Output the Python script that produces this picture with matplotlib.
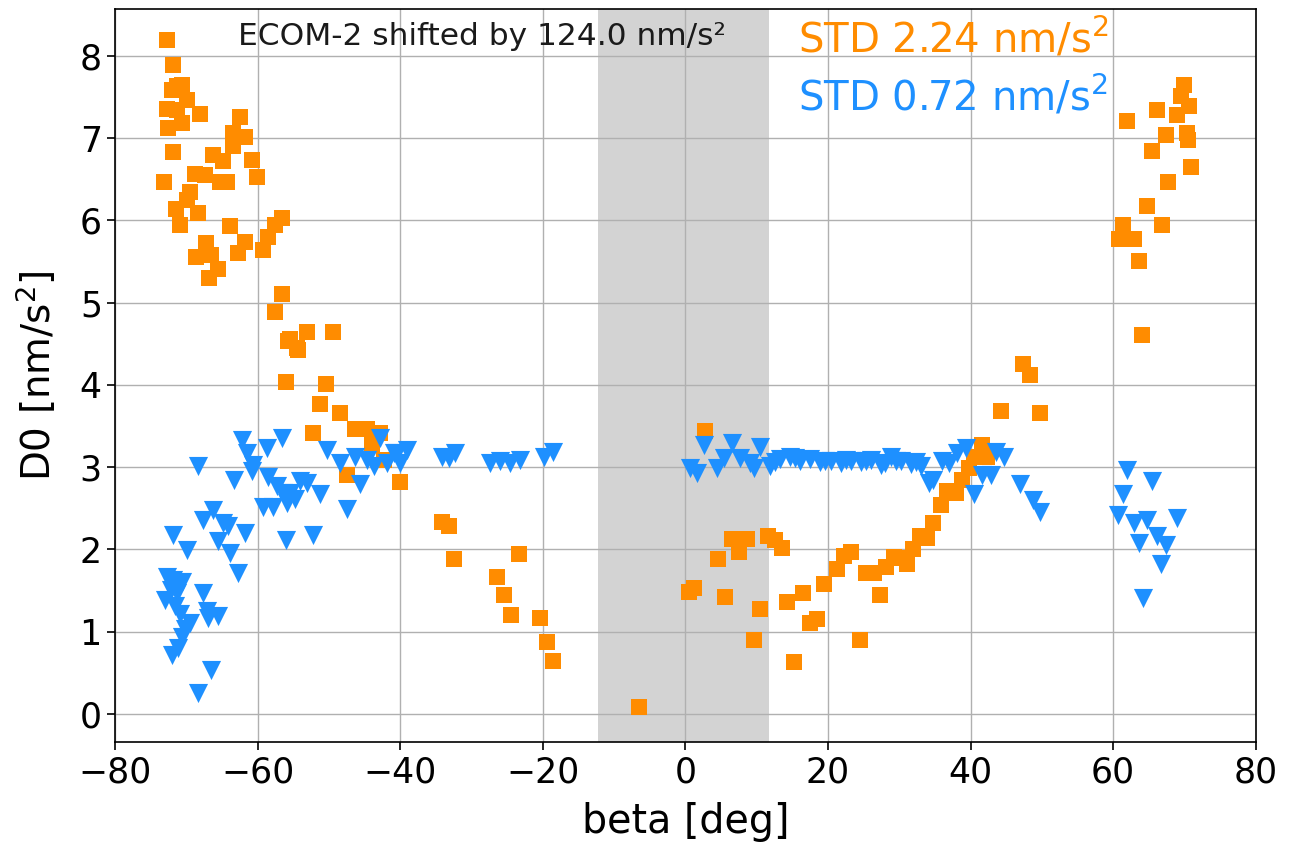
import matplotlib
matplotlib.use("Agg")
import matplotlib.pyplot as plt

plt.rcParams['font.family'] = ['DejaVu Sans']
plt.rcParams['mathtext.fontset'] = 'dejavusans'

# ECOM-2 (shifted) residuals - orange squares
beta_ecom2 = [-72.7, -71.8, -71.3, -72.0, -70.6, -69.9, -72.7, -71.3, -68.1, -70.6,
              -72.5, -62.5, -63.4, -61.8, -63.4, -71.8, -66.2, -64.8, -60.8, -68.8,
              -67.4, -65.3, -64.3, -60.1, -73.1, -69.5, -69.9, -71.5, -68.3, -70.9,
              -56.6, -57.5, -58.5, -59.2, -63.9, -61.8, -62.8, -67.2, -68.6, -66.5,
              -65.5, -66.8, -56.6, -57.6, -53.1, -49.4, -55.4, -54.5, -55.7, -54.3,
              -56.0, -50.4, -51.3, -48.5, -52.3, -46.3, -44.7, -42.8, -44.0, -42.3,
              -47.5, -40.0, -34.1, -33.2, -32.4, -23.3, -26.4, -25.4, -24.5, -20.4,
              -19.4, -18.5, -6.5, 0.5, 1.2, 2.7, 4.6, 5.5, 6.6, 7.5,
              8.7, 11.6, 12.6, 13.5, 9.6, 10.5, 14.3, 16.5, 17.5, 18.5,
              15.3, 19.4, 21.3, 22.2, 23.2, 24.5, 25.4, 26.4, 27.3, 28.2,
              29.2, 30.2, 31.1, 31.9, 32.9, 33.9, 34.8, 35.8, 36.7, 37.9,
              38.8, 39.8, 40.5, 41.6, 42.3, 44.2, 47.3, 48.4, 49.7,
              69.9, 69.5, 70.7, 66.1, 68.9, 62.0, 67.4, 70.4, 70.5, 65.5,
              70.9, 67.7, 64.8, 66.8, 61.4, 60.8, 62.9, 63.6, 64.1]
d0_ecom2 = [8.19, 7.89, 7.63, 7.59, 7.65, 7.47, 7.36, 7.34, 7.30, 7.18,
            7.12, 7.26, 7.06, 7.02, 6.90, 6.83, 6.80, 6.72, 6.74, 6.57,
            6.55, 6.47, 6.47, 6.53, 6.47, 6.35, 6.25, 6.14, 6.09, 5.95,
            6.03, 5.95, 5.80, 5.64, 5.93, 5.74, 5.60, 5.72, 5.55, 5.58,
            5.41, 5.30, 5.11, 4.89, 4.64, 4.64, 4.56, 4.45, 4.53, 4.43,
            4.04, 4.01, 3.77, 3.66, 3.42, 3.46, 3.46, 3.42, 3.27, 3.09,
            2.90, 2.82, 2.34, 2.29, 1.88, 1.94, 1.67, 1.45, 1.20, 1.17,
            0.87, 0.65, 0.09, 1.48, 1.53, 3.44, 1.88, 1.42, 2.13, 1.97,
            2.13, 2.16, 2.12, 2.02, 0.90, 1.28, 1.36, 1.47, 1.11, 1.15,
            0.63, 1.58, 1.76, 1.92, 1.97, 0.90, 1.71, 1.71, 1.45, 1.79,
            1.91, 1.90, 1.82, 2.00, 2.16, 2.14, 2.32, 2.54, 2.71, 2.69,
            2.85, 2.99, 3.13, 3.27, 3.13, 3.68, 4.26, 4.12, 3.66,
            7.65, 7.51, 7.39, 7.34, 7.28, 7.21, 7.04, 7.06, 6.98, 6.85,
            6.65, 6.47, 6.17, 5.95, 5.95, 5.78, 5.78, 5.51, 4.61]

# Other solution - blue triangles
beta_other = [-62.2, -61.5, -58.7, -56.6, -68.3, -60.6, -60.8, -63.3, -58.5, -57.3,
              -56.4, -55.4, -54.0, -53.1, -51.2, -59.2, -57.8, -55.9, -54.7, -66.2,
              -67.6, -64.8, -64.1, -61.8, -71.8, -65.5, -69.9, -63.9, -56.0, -52.3,
              -47.5, -62.7, -72.7, -71.8, -70.6, -72.2, -71.3, -67.7, -73.0, -71.6,
              -67.1, -65.5, -66.9, -70.9, -69.5, -70.2, -70.6, -71.1, -72.0, -66.5,
              -68.3, -50.3, -48.4, -46.3, -44.7, -43.7, -42.8, -41.9, -40.5, -39.1,
              -45.6, -40.9, -40.0, -34.1, -32.3, -33.2, -27.4, -26.0, -24.6, -23.2,
              -19.9, -18.5, 0.7, 1.6, 2.6, 4.4, 5.4, 6.6, 7.7, 9.1,
              10.5, 9.6, 11.9, 12.5, 13.3, 14.7, 15.4, 16.1, 17.5, 18.9,
              19.6, 20.4, 21.8, 22.5, 23.2, 24.6, 25.3, 26.0, 27.4, 28.0,
              28.8, 29.5, 30.2, 31.6, 32.3, 33.0, 34.2, 34.8, 36.0, 37.0,
              38.1, 39.3, 40.5, 41.6, 42.8, 43.5, 44.7, 47.0, 48.7, 49.7,
              62.0, 65.5, 61.4, 60.7, 62.9, 64.8, 69.0, 63.6, 66.2, 67.4,
              66.7, 64.2]
d0_other = [3.33, 3.17, 3.23, 3.35, 3.02, 3.03, 2.95, 2.85, 2.88, 2.77,
            2.69, 2.69, 2.83, 2.81, 2.67, 2.52, 2.52, 2.57, 2.61, 2.48,
            2.36, 2.32, 2.28, 2.20, 2.18, 2.10, 1.99, 1.96, 2.12, 2.17,
            2.49, 1.71, 1.67, 1.63, 1.61, 1.51, 1.47, 1.47, 1.39, 1.31,
            1.25, 1.19, 1.17, 1.21, 1.11, 1.03, 0.94, 0.80, 0.72, 0.54,
            0.26, 3.21, 3.05, 3.13, 3.09, 3.01, 3.35, 3.05, 3.17, 3.21,
            2.79, 3.17, 3.05, 3.13, 3.17, 3.11, 3.05, 3.07, 3.05, 3.09,
            3.13, 3.19, 2.99, 2.93, 3.27, 2.99, 3.11, 3.29, 3.11, 3.05,
            3.25, 2.99, 3.01, 3.06, 3.10, 3.12, 3.11, 3.08, 3.10, 3.06,
            3.07, 3.08, 3.05, 3.09, 3.08, 3.06, 3.08, 3.09, 3.03, 3.05,
            3.12, 3.07, 3.08, 3.04, 3.06, 3.02, 2.81, 2.85, 3.07, 3.05,
            3.17, 3.23, 2.67, 2.91, 2.91, 3.19, 3.13, 2.79, 2.60, 2.46,
            2.97, 2.83, 2.67, 2.42, 2.32, 2.36, 2.38, 2.08, 2.16, 2.06,
            1.82, 1.41]

xticks = [-80, -60, -40, -20, 0, 20, 40, 60, 80]
yticks = [0, 1, 2, 3, 4, 5, 6, 7, 8]
eclipse_span = [-12.2, 11.7]
shift_text = "ECOM-2 shifted by 124.0 nm/s²"
std_ecom2 = 2.24
std_other = 0.72

c_orange = '#FF8C00'
c_blue = '#1E90FF'

fig = plt.figure(figsize=(13.04, 8.44), dpi=100)
ax = fig.add_axes([0.0882, 0.1209, 0.8748, 0.8684])

ax.axvspan(eclipse_span[0], eclipse_span[1], color='#d3d3d3', zorder=0, lw=0)
ax.grid(True, color='#b0b0b0', lw=1.0, zorder=0.5)
ax.set_axisbelow(True)

ax.scatter(beta_ecom2, d0_ecom2, marker='s', s=120, color=c_orange, lw=0, zorder=2)
ax.scatter(beta_other, d0_other, marker='v', s=190, color=c_blue, lw=0, zorder=3)

ax.set_xlim(-80, 80)
ax.set_ylim(-0.34, 8.57)
ax.set_xticks(xticks)
ax.set_yticks(yticks)
ax.tick_params(labelsize=25, length=6, width=1.2)
for sp in ax.spines.values():
    sp.set_linewidth(1.2)

ax.set_xlabel('beta [deg]', fontsize=28.5, labelpad=9)
ax.set_ylabel(r'D0 [nm/s$^2$]', fontsize=28, labelpad=15)

ax.text(0.322, 0.962, shift_text, transform=ax.transAxes, ha='center', va='center',
        fontsize=22.5, color='#1a1a1a')
ax.text(0.599, 0.958, 'STD %.2f nm/s$^2$' % std_ecom2, transform=ax.transAxes,
        ha='left', va='center', fontsize=29, color=c_orange)
ax.text(0.599, 0.880, 'STD %.2f nm/s$^2$' % std_other, transform=ax.transAxes,
        ha='left', va='center', fontsize=29, color=c_blue)

fig.savefig('out.png', dpi=100)
